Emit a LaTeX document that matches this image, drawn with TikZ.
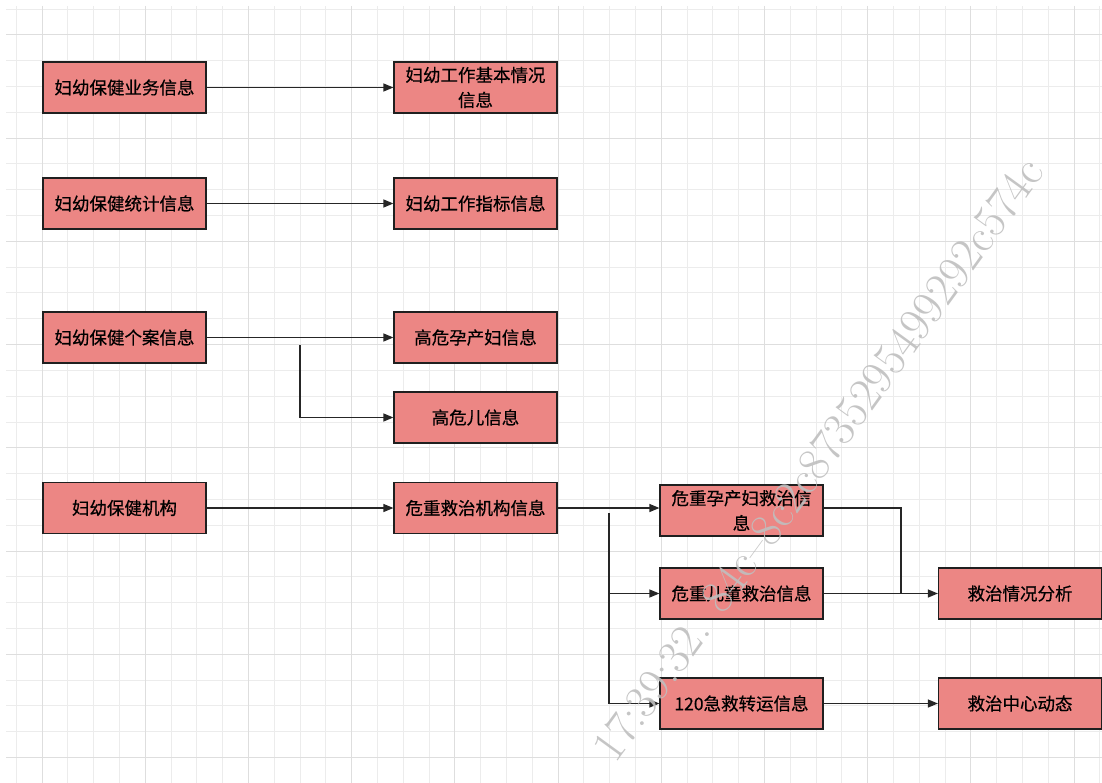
\documentclass[tikz,border=0pt]{standalone}
\usepackage{fontspec}
\newfontfamily\cjk[FakeBold=0.5]{Noto Sans CJK SC}
\usetikzlibrary{arrows.meta}

\definecolor{boxred}{RGB}{236,134,132}
\definecolor{gridminor}{RGB}{236,236,236}
\definecolor{gridmajor}{RGB}{222,222,222}

\tikzset{
  infobox/.style={draw=black!88, line width=1.2pt, fill=boxred,
    minimum width=163pt, minimum height=51pt, inner sep=0pt,
    align=center, font=\cjk\fontsize{17.5}{25}\selectfont},
  flow/.style={draw=black!85, line width=1.2pt, -{Triangle[length=10pt,width=8pt]}},
  link/.style={draw=black!85, line width=1.2pt},
}

\begin{document}
\begin{tikzpicture}[x=1pt,y=-1pt]
\useasboundingbox (0,0) rectangle (1102,783);

% grid
\foreach \i in {0,...,42} \draw[gridminor, line width=1pt] (16.2+25.8*\i,6) -- (16.2+25.8*\i,783);
\foreach \i in {0,...,29} \draw[gridminor, line width=1pt] (6,9.2+25.8*\i) -- (1102,9.2+25.8*\i);
\foreach \i in {1,5,...,41} \draw[gridmajor, line width=1pt] (16.2+25.8*\i,6) -- (16.2+25.8*\i,783);
\foreach \i in {1,5,...,29} \draw[gridmajor, line width=1pt] (6,9.2+25.8*\i) -- (1102,9.2+25.8*\i);

\node[infobox](ywxx) at (124.5,87.5) {妇幼保健业务信息};
\node[infobox](jbqk) at (475.5,87.5) {妇幼工作基本情况\\信息};
\node[infobox](tjxx) at (124.5,203.5) {妇幼保健统计信息};
\node[infobox](zbxx) at (475.5,203.5) {妇幼工作指标信息};
\node[infobox](gaxx) at (124.5,337.5) {妇幼保健个案信息};
\node[infobox](gwycf) at (475.5,337.5) {高危孕产妇信息};
\node[infobox](gwe) at (475.5,417.5) {高危儿信息};
\node[infobox](bjjg) at (124.5,508) {妇幼保健机构};
\node[infobox](wzjg) at (475.5,508) {危重救治机构信息};
\node[infobox](ycfjz) at (741.5,510.5) {危重孕产妇救治信\\息};
\node[infobox](etjz) at (741.5,593.5) {危重儿童救治信息};
\node[infobox](jzzy) at (741.5,703.5) {120急救转运信息};
\node[infobox](jzfx) at (1020,593.5) {救治情况分析};
\node[infobox](zxdt) at (1020,703.5) {救治中心动态};

\coordinate(gasplit) at (300,345);
\coordinate(wzsplit) at (609,513);
\coordinate(fxjoin) at (901,593.5);

\draw[flow](ywxx)--(jbqk);
\draw[flow](tjxx)--(zbxx);
\draw[flow](gaxx)--(gwycf);
\draw[flow](gasplit)|-(gwe);
\draw[flow](bjjg)--(wzjg);
\draw[flow](wzjg.east)--(wzjg.east -| ycfjz.west);
\draw[flow](wzsplit)|-(etjz);
\draw[flow](wzsplit)|-(jzzy);
\draw[link](ycfjz.east |- wzjg.east)-|(fxjoin);
\draw[flow](etjz)--(jzfx);
\draw[flow](jzzy)--(zxdt);

% watermark
\node[text=black!25, opacity=0.9, font=\fontsize{47}{47}\selectfont, rotate=54, anchor=base east, inner sep=0pt](wmark)
  at (1046,172) {17:39:32. 84c--8c2c8735295499292c574c};

\end{tikzpicture}
\end{document}
